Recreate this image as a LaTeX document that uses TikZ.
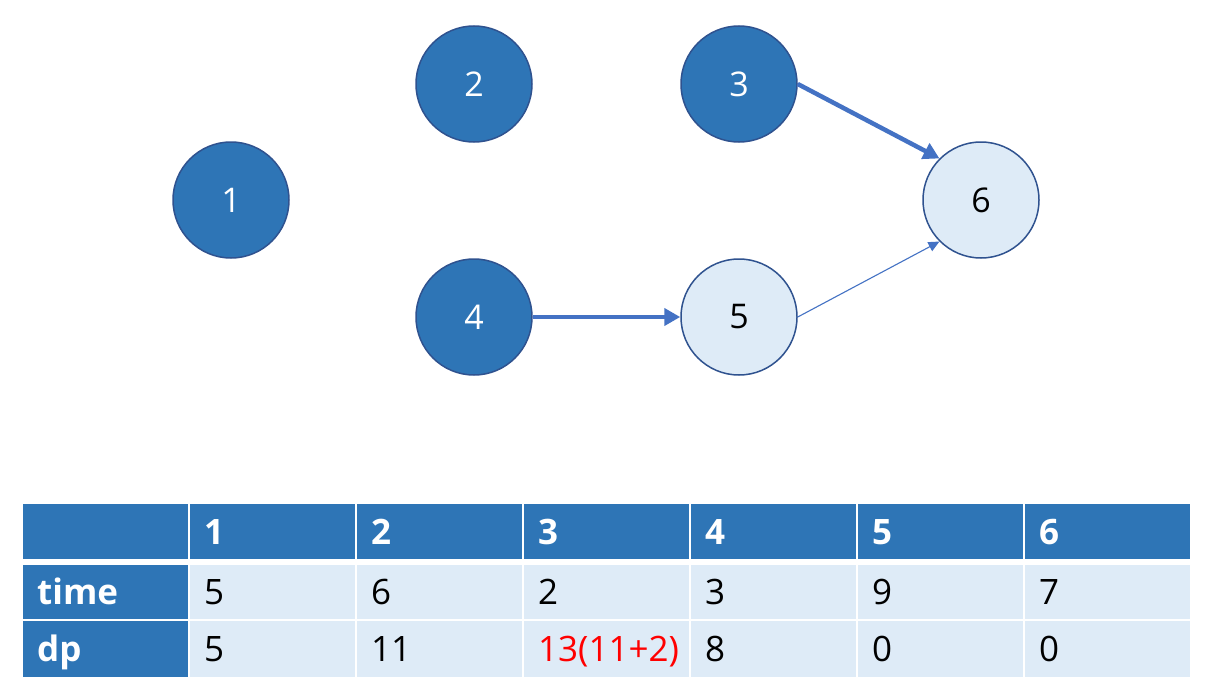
\documentclass[tikz,border=0pt]{standalone}
\usepackage{fontspec}
\setmainfont{Open Sans}
\usetikzlibrary{arrows.meta}
\definecolor{dkblue}{HTML}{2E75B6}
\definecolor{ltblue}{HTML}{DEEBF7}
\definecolor{edgeblue}{HTML}{2F528F}
\definecolor{arrblue}{HTML}{4472C4}
\tikzset{
  dkc/.style={circle, minimum size=116pt, inner sep=0pt, fill=dkblue, draw=edgeblue, line width=1.5pt, text=white, font=\fontsize{34}{40}\selectfont},
  ltc/.style={circle, minimum size=116pt, inner sep=0pt, fill=ltblue, draw=edgeblue, line width=1.5pt, text=black, font=\fontsize{34}{40}\selectfont},
  thickarr/.style={draw=arrblue, line width=4.5pt, -{Triangle[length=16pt,width=17pt]}, shorten >=0pt},
  thinarr/.style={draw=arrblue, line width=1.1pt, -{Triangle[length=11pt,width=10pt]}},
  cell/.style={rectangle, minimum width=165pt, text width=137pt, text height=25pt, text depth=0pt, inner xsep=14pt, inner ysep=0pt, align=left, anchor=north west, font=\fontsize{35}{40}\selectfont},
  hd/.style={cell, fill=dkblue, text=white, font=\fontsize{35}{40}\selectfont\bfseries},
  bd/.style={cell, fill=ltblue, text=black},
}
\begin{document}
\begin{tikzpicture}[x=1pt,y=-1pt]
\useasboundingbox (0,0) rectangle (1211,693);
\fill[white] (0,0) rectangle (1211,693);
% graph nodes
\node[dkc] (n1) at (231,200) {1};
\node[dkc] (n2) at (474,84) {2};
\node[dkc] (n3) at (739,84) {3};
\node[dkc] (n4) at (474,317) {4};
\node[ltc] (n5) at (739,317) {5};
\node[ltc] (n6) at (981,200) {6};
% edges
\draw[thickarr] (n3.east) -- (n6.north west);
\draw[thickarr] (n4.east) -- (n5.west);
\draw[thinarr] (n5.east) -- (n6.south west);
% table header
\node[hd, minimum height=55pt] (h0) at (23,504) {};
\node[hd, minimum height=55pt] (h1) at (190,504) {1};
\node[hd, minimum height=55pt] (h2) at (357,504) {2};
\node[hd, minimum height=55pt] (h3) at (524,504) {3};
\node[hd, minimum height=55pt] (h4) at (691,504) {4};
\node[hd, minimum height=55pt] (h5) at (858,504) {5};
\node[hd, minimum height=55pt] (h6) at (1025,504) {6};
% row time
\node[hd, minimum height=54pt] (t0) at (23,565) {time};
\node[bd, minimum height=54pt] (t1) at (190,565) {5};
\node[bd, minimum height=54pt] (t2) at (357,565) {6};
\node[bd, minimum height=54pt] (t3) at (524,565) {2};
\node[bd, minimum height=54pt] (t4) at (691,565) {3};
\node[bd, minimum height=54pt] (t5) at (858,565) {9};
\node[bd, minimum height=54pt] (t6) at (1025,565) {7};
% row dp
\node[hd, minimum height=56pt] (d0) at (23,621) {dp};
\node[bd, minimum height=56pt] (d1) at (190,621) {5};
\node[bd, minimum height=56pt] (d2) at (357,621) {11};
\node[bd, minimum height=56pt, text=red] (d3) at (524,621) {13(11+2)};
\node[bd, minimum height=56pt] (d4) at (691,621) {8};
\node[bd, minimum height=56pt] (d5) at (858,621) {0};
\node[bd, minimum height=56pt] (d6) at (1025,621) {0};
\end{tikzpicture}
\end{document}
